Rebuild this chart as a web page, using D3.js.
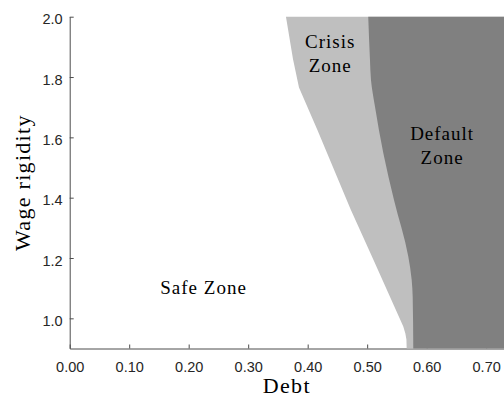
<!DOCTYPE html>
<html>
<head>
<meta charset="utf-8">
<script src="https://cdn.jsdelivr.net/npm/d3@7"></script>
<style>
  html, body { margin: 0; padding: 0; background: #fff; }
  svg { display: block; }
  .tick text { font-family: "Liberation Sans", Arial, sans-serif; font-size: 14.5px; fill: #262626; }
  .axis path, .axis line { stroke: #4d4d4d; stroke-width: 1; }
  .zone { font-family: "Liberation Serif", "Times New Roman", serif; font-size: 19px; fill: #000; letter-spacing: 1px; }
  .axis-title { font-family: "Liberation Serif", "Times New Roman", serif; font-size: 22px; fill: #000; letter-spacing: 1.3px; }
</style>
</head>
<body>
<svg id="chart" width="504" height="398"></svg>
<script>
// Axis extents and tick labels
const debtDomain = [0, 0.73];
const rigidityDomain = [0.9, 2.0];
const debtTicks = [0, 0.1, 0.2, 0.3, 0.4, 0.5, 0.6, 0.7];
const rigidityTicks = [1.0, 1.2, 1.4, 1.6, 1.8, 2.0];

// Left edge of the crisis zone (debt threshold at each wage rigidity)
const crisisRigidity = [2.0, 1.86, 1.765, 1.625, 1.36, 1.195, 0.973, 0.95, 0.93, 0.9];
const crisisDebt     = [0.3635, 0.3753, 0.3854, 0.4162, 0.4725, 0.5103, 0.5607, 0.5642, 0.5660, 0.5664];

// Left edge of the default zone
const defaultRigidity = [2.0, 1.857, 1.79, 1.702, 1.548, 1.393, 1.205, 1.128, 1.072, 0.9];
const defaultDebt     = [0.5018, 0.5047, 0.5064, 0.5131, 0.5271, 0.545, 0.5691, 0.5748, 0.5765, 0.5775];

// Zone labels
const zoneLabels = [
  { lines: ["Safe Zone"], debt: 0.225, rigidity: 1.081 },
  { lines: ["Crisis", "Zone"], debt: 0.438, rigidity: 1.895 },
  { lines: ["Default", "Zone"], debt: 0.626, rigidity: 1.591 }
];

const svg = d3.select("#chart");
const plotLeft = 69.7, plotRight = 504, plotTop = 16.7, plotBottom = 348.5;

const x = d3.scaleLinear().domain(debtDomain).range([plotLeft, plotRight]);
const y = d3.scaleLinear().domain(rigidityDomain).range([plotBottom, plotTop]);

// Axes (inward ticks)
svg.append("g")
  .attr("class", "axis")
  .attr("transform", `translate(0,${plotBottom})`)
  .call(d3.axisBottom(x).tickValues(debtTicks).tickFormat(d3.format(".2f"))
    .tickSizeInner(-4).tickSizeOuter(0).tickPadding(13.5));

svg.append("g")
  .attr("class", "axis")
  .attr("transform", `translate(${plotLeft},0)`)
  .call(d3.axisLeft(y).tickValues(rigidityTicks).tickFormat(d3.format(".1f"))
    .tickSizeInner(-4).tickSizeOuter(0).tickPadding(7))
  .selectAll(".tick text").attr("dy", "0.5em");

// Shaded zones, filled from each boundary to the right edge
const zoneArea = curve => d3.area()
  .y(d => y(d[0]))
  .x0(d => x(d[1]))
  .x1(() => plotRight)
  .curve(curve);

const crisisPts = crisisRigidity.map((r, i) => [r, crisisDebt[i]]);
const defaultPts = defaultRigidity.map((r, i) => [r, defaultDebt[i]]);

svg.append("path").datum(crisisPts).attr("d", zoneArea(d3.curveLinear)).attr("fill", "#bfbfbf");
svg.append("path").datum(defaultPts).attr("d", zoneArea(d3.curveMonotoneY)).attr("fill", "#808080");

// Zone labels
zoneLabels.forEach(z => {
  const t = svg.append("text").attr("class", "zone")
    .attr("text-anchor", "middle")
    .attr("x", x(z.debt)).attr("y", y(z.rigidity));
  z.lines.forEach((ln, i) => {
    t.append("tspan").attr("x", x(z.debt)).attr("dy", i === 0 ? 0 : 23.5).text(ln);
  });
});

// Axis titles
svg.append("text").attr("class", "axis-title")
  .attr("text-anchor", "middle")
  .attr("x", (plotLeft + plotRight) / 2).attr("y", 393)
  .text("Debt");

svg.append("text").attr("class", "axis-title")
  .attr("text-anchor", "middle")
  .attr("transform", `translate(29.5,${(plotTop + plotBottom) / 2}) rotate(-90)`)
  .text("Wage rigidity");
</script>
</body>
</html>
